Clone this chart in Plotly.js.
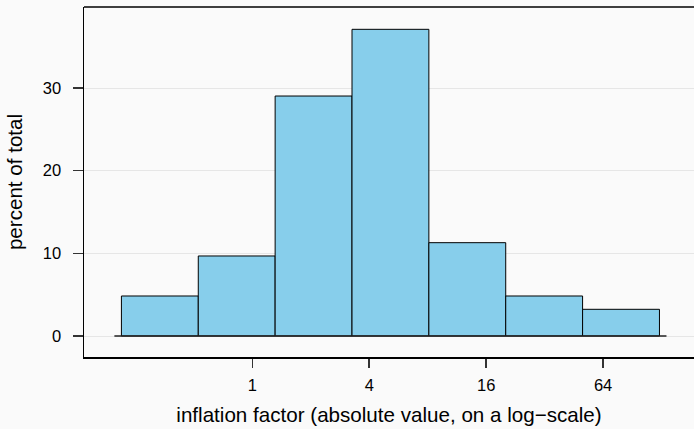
<!DOCTYPE html>
<html>
<head>
<meta charset="utf-8">
<script src="https://cdn.plot.ly/plotly-3.0.1.min.js"></script>
<style>html,body{margin:0;padding:0;background:#fafafa;}</style>
</head>
<body>
<div id="chart" style="width:694px;height:429px;"></div>
<script>
// bin edges in log2 units of the inflation factor
const binEdges = [-2.24, -0.925, 0.39, 1.705, 3.02, 4.335, 5.65, 6.965];
const percents = [4.84, 9.68, 29.03, 37.10, 11.29, 4.84, 3.23];
const xTickVals = [0, 2, 4, 6];
const xTickText = ['1', '4', '16', '64'];
const yTickVals = [0, 10, 20, 30];

const centers = percents.map((_, i) => (binEdges[i] + binEdges[i + 1]) / 2);
const widths = percents.map((_, i) => binEdges[i + 1] - binEdges[i]);
const pad = 0.12;

const trace = {
  type: 'bar',
  x: centers,
  y: percents,
  width: widths,
  marker: { color: '#87CEEB', line: { color: '#000', width: 1 } },
  hoverinfo: 'skip'
};

const layout = {
  width: 694, height: 429,
  paper_bgcolor: '#fafafa', plot_bgcolor: '#fafafa',
  margin: { l: 83.5, r: 0, t: 7, b: 72 },
  showlegend: false,
  font: { family: 'Liberation Sans, Arial, sans-serif', color: '#000', size: 16.5 },
  xaxis: {
    range: [-2.88, 7.556],
    tickvals: xTickVals, ticktext: xTickText,
    ticks: 'outside', ticklen: 9, tickcolor: '#333', tickwidth: 1.5,
    ticklabelstandoff: 4,
    showgrid: false, zeroline: false,
    showline: true, linecolor: '#000', linewidth: 1.5,
    title: { text: 'inflation factor (absolute value, on a log\u2212scale)', font: { size: 20.6 }, standoff: 14 }
  },
  yaxis: {
    range: [-2.54, 39.8],
    tickvals: yTickVals,
    ticks: 'outside', ticklen: 10, tickcolor: '#333', tickwidth: 1.5,
    ticklabelstandoff: 8,
    showgrid: true, gridcolor: '#e6e6e6', gridwidth: 1,
    zeroline: false,
    showline: true, linecolor: '#000', linewidth: 1.5,
    title: { text: 'percent of total', font: { size: 20.6 }, standoff: 14 }
  },
  shapes: [
    { type: 'line', xref: 'paper', yref: 'paper', x0: 0, x1: 1, y0: 1, y1: 1, line: { color: '#000', width: 1.5 } },
    { type: 'line', xref: 'x', yref: 'y', x0: binEdges[0] - pad, x1: binEdges[binEdges.length - 1] + pad, y0: 0, y1: 0, line: { color: '#222', width: 1.5 } }
  ]
};

Plotly.newPlot('chart', [trace], layout, { displayModeBar: false, staticPlot: true });
</script>
</body>
</html>
